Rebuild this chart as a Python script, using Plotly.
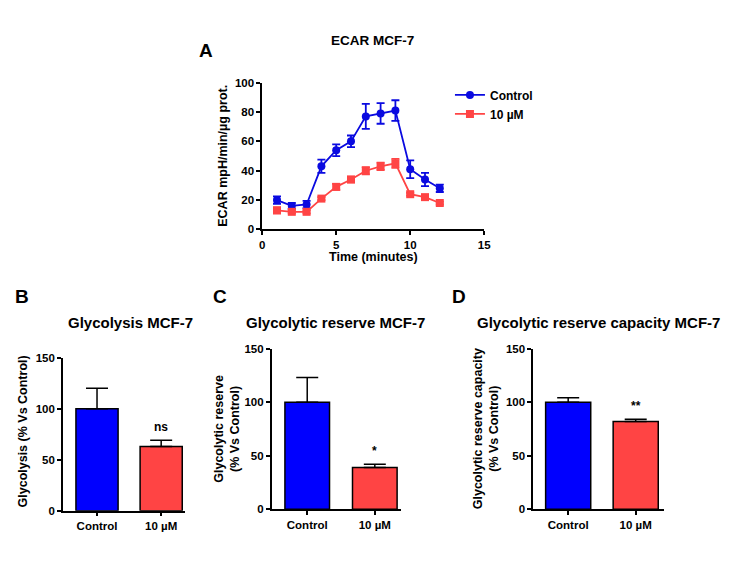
import plotly.graph_objects as go

# ---------------- data ----------------
time_min = [1, 2, 3, 4, 5, 6, 7, 8, 9, 10, 11, 12]
ecar_control = [20, 16, 17, 43, 54, 60, 77, 79, 81, 41, 34, 28]
ecar_control_err = [2.5, 2, 2.5, 4.5, 4, 4, 8.5, 7, 7, 6, 4.5, 2.5]
ecar_10uM = [13, 12, 12, 21, 29, 34, 40, 43, 45, 24, 22, 18]
ecar_10uM_err = [2, 1, 1, 1, 2, 2, 2.5, 2.5, 3, 1, 1, 1]

groups = ["Control", "10 µM"]
glycolysis = [100, 63]
glycolysis_err = [20, 6]
reserve = [100, 39]
reserve_err = [23, 3]
reserve_capacity = [100, 82]
reserve_capacity_err = [4, 2]
significance = {"B": "ns", "C": "*", "D": "**"}

BLUE = "#0000ff"
LINE_BLUE = "#0a0ae0"
RED = "#ff4444"
FONT = "Liberation Sans, Arial, sans-serif"
W, H = 750, 563


def px_x(p):
    return p / W


def px_y(p):
    return 1 - p / H


fig = go.Figure()

# ---------------- panel A ----------------
fig.add_trace(go.Scatter(
    x=time_min, y=ecar_control, name="Control", mode="lines+markers",
    line=dict(color=LINE_BLUE, width=1.8), marker=dict(symbol="circle", size=8, color=LINE_BLUE),
    error_y=dict(type="data", array=ecar_control_err, color=LINE_BLUE, thickness=1.8, width=4),
    xaxis="x", yaxis="y", cliponaxis=False))
fig.add_trace(go.Scatter(
    x=time_min, y=ecar_10uM, name="10 µM", mode="lines+markers",
    line=dict(color=RED, width=1.8), marker=dict(symbol="square", size=8, color=RED),
    error_y=dict(type="data", array=ecar_10uM_err, color=RED, thickness=1.8, width=4),
    xaxis="x", yaxis="y", cliponaxis=False))

axis_common = dict(showline=True, linecolor="black", linewidth=1.5, ticks="outside",
                   tickcolor="black", tickwidth=1.5, ticklen=4, showgrid=False,
                   zeroline=False, tickfont=dict(family=FONT, size=11.5, color="black", weight="bold"))

layout_axes = {}
layout_axes["xaxis"] = dict(axis_common, domain=[px_x(262.7), px_x(487.7)], range=[0, 15],
                            tickvals=[0, 5, 10, 15], anchor="y")
layout_axes["yaxis"] = dict(axis_common, domain=[px_y(228.3), px_y(78.3)], range=[0, 100],
                            tickvals=[0, 20, 40, 60, 80, 100], anchor="x")

# ---------------- bar panels ----------------
panels = [
    ("B", glycolysis, glycolysis_err, (60.7, 184.3), (359.3, 515.7), [-0.532, 1.369], 0.657),
    ("C", reserve, reserve_err, (272.3, 403.0), (350.0, 514.3), [-0.526, 1.382], 0.66),
    ("D", reserve_capacity, reserve_capacity_err, (537.3, 670.0), (350.0, 514.3), [-0.519, 1.42], 0.668),
]

annotations = []
for i, (label, vals, errs, xdom, ydom, xr, bw) in enumerate(panels):
    n = i + 2
    xa, ya = f"x{n}", f"y{n}"
    fig.add_trace(go.Bar(
        x=[0, 1], y=vals, width=bw,
        marker=dict(color=[BLUE, RED], line=dict(color="black", width=1.5)),
        error_y=dict(type="data", symmetric=False, array=errs, arrayminus=[0] * len(errs),
                     color="black", thickness=1.5, width=11),
        showlegend=False, xaxis=xa, yaxis=ya, cliponaxis=False))
    layout_axes[f"xaxis{n}"] = dict(axis_common, domain=[px_x(xdom[0]), px_x(xdom[1])], range=xr,
                                    tickvals=[0, 1], ticktext=groups, anchor=ya)
    layout_axes[f"yaxis{n}"] = dict(axis_common, domain=[px_y(ydom[1]), px_y(ydom[0])], range=[0, 150],
                                    tickvals=[0, 50, 100, 150], anchor=xa)
    annotations.append(dict(x=1, y=vals[1] + errs[1], xref=xa, yref=ya, text=f"<b>{significance[label]}</b>",
                            showarrow=False, yanchor="bottom", yshift=4,
                            font=dict(family=FONT, size=12, color="black")))


def txt(x, y, text, size, angle=0, xanchor="center"):
    annotations.append(dict(x=px_x(x), y=px_y(y), xref="paper", yref="paper", text=text,
                            showarrow=False, textangle=angle, xanchor=xanchor, yanchor="middle",
                            font=dict(family=FONT, size=size, color="black")))


# panel letters
txt(206, 45, "<b>A</b>", 19)
txt(19, 297, "<b>B</b>", 19)
txt(220, 297, "<b>C</b>", 19)
txt(462, 297, "<b>D</b>", 19)

# titles
txt(374, 35, "<b>ECAR MCF-7</b>", 13.5)
txt(129, 323, "<b>Glycolysis MCF-7</b>", 15)
txt(337, 323, "<b>Glycolytic reserve MCF-7</b>", 15)
txt(604, 323, "<b>Glycolytic reserve capacity MCF-7</b>", 15)

# axis titles
txt(375, 256, "<b>Time (minutes)</b>", 12.5)
txt(223, 153, "<b>ECAR mpH/min/µg prot.</b>", 12.5, angle=-90)
txt(20, 435, "<b>Glycolysis (% Vs Control)</b>", 12.5, angle=-90)
txt(227, 432, "<b>Glycolytic reserve<br>(% Vs Control)</b>", 12.5, angle=-90)
txt(489, 432, "<b>Glycolytic reserve capacity<br>(% Vs Control)</b>", 12.5, angle=-90)

fig.update_layout(
    width=W, height=H, margin=dict(l=0, r=0, t=0, b=0),
    paper_bgcolor="white", plot_bgcolor="white",
    font=dict(family=FONT, color="black"),
    legend=dict(x=px_x(453), y=px_y(76), xanchor="left", yanchor="top",
                font=dict(family=FONT, size=12, color="black", weight="bold"),
                bgcolor="rgba(0,0,0,0)", tracegroupgap=0),
    annotations=annotations,
    **layout_axes,
)

fig.write_html("out.html", config={"displayModeBar": False},
               post_script="document.body.style.margin='0';document.body.style.overflow='hidden';")
